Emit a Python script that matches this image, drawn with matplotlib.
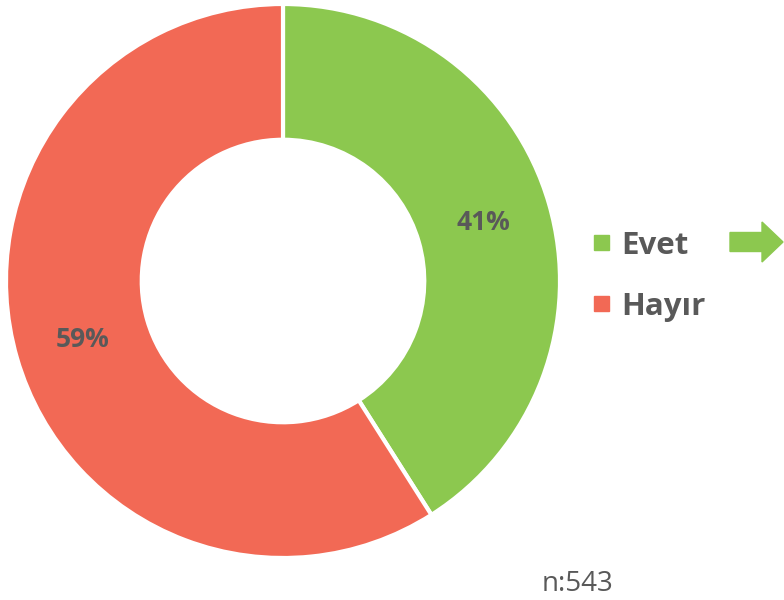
import matplotlib
import matplotlib.pyplot as plt
from matplotlib.patches import Rectangle, FancyArrow

matplotlib.use('agg')

labels = ['Evet', 'Hayır']
shares = [41, 59]
colors = ['#8CC84F', '#F26955']
sample_note = 'n:543'

plt.rcParams['font.family'] = ['Open Sans', 'DejaVu Sans']
text_grey = '#595959'

W, H = 784, 600
fig = plt.figure(figsize=(W / 100, H / 100), dpi=100)

# donut centre (283, 281) px, outer radius 277 px
cx, cy, r = 283, 281, 277
ax = fig.add_axes([(cx - r) / W, (H - cy - r) / H, 2 * r / W, 2 * r / H])
wedges, texts, autotexts = ax.pie(
    shares, colors=colors, startangle=90, counterclock=False,
    autopct='%.0f%%', pctdistance=0.755,
    wedgeprops=dict(width=0.49, edgecolor='white', linewidth=3),
    textprops=dict(color=text_grey, fontsize=19, fontweight='bold'))
ax.set_xlim(-1, 1)
ax.set_ylim(-1, 1)
ax.set_aspect('equal')
ax.axis('off')

# legend
for i, (lab, col) in enumerate(zip(labels, colors)):
    y = 242 + i * 61
    fig.patches.append(Rectangle((594 / W, (H - y - 7.5) / H), 15 / W, 15 / H,
                                 color=col, transform=fig.transFigure))
    fig.text(621 / W, (H - y) / H, lab, color=text_grey, fontsize=22.5,
             fontweight='bold', va='center_baseline', ha='left')

# arrow next to "Evet"
fig.patches.append(FancyArrow(730 / W, (H - 242) / H, 53 / W, 0, width=19 / H,
                              head_width=40 / H, head_length=21 / W,
                              length_includes_head=True, color=colors[0],
                              transform=fig.transFigure))

fig.text(577 / W, (H - 584) / H, sample_note, color=text_grey, fontsize=20,
         ha='center', va='center')

fig.savefig('out.png', dpi=100)
